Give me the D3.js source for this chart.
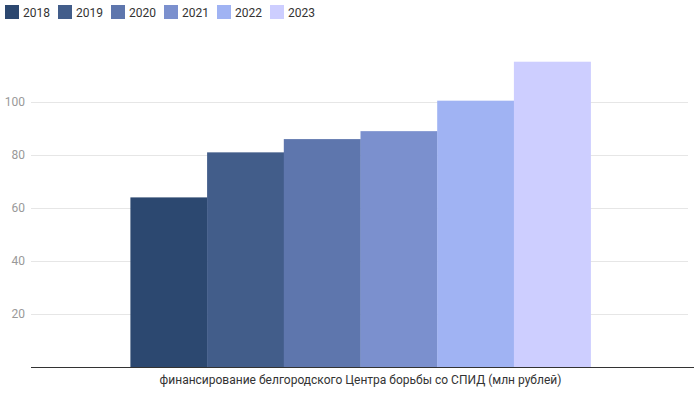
<!DOCTYPE html>
<html><head><meta charset="utf-8">
<script src="https://cdn.jsdelivr.net/npm/d3@7"></script>
<style>body{margin:0;background:#fff;}svg{display:block;font-family:Roboto,"Noto Sans",sans-serif;}</style>
</head><body>
<svg id="c" width="694" height="396"></svg>
<script>
const category = ["финансирование белгородского Центра борьбы со СПИД (млн рублей)"];
const years = ["2018","2019","2020","2021","2022","2023"];
const values = [64, 81, 86, 89, 100.5, 115.2];
const colors = ["#2C4870","#425D8A","#5E76AD","#7B90CE","#A0B3F3","#CDCEFF"];
const yTicks = [20, 40, 60, 80, 100];

const svg = d3.select("#c");
const m = {left: 31, right: 4, top: 49, bottom: 29};
const W = 694, H = 396;
const x0 = d3.scaleBand().domain(category).range([m.left, W - m.right]).paddingInner(0).paddingOuter(0.216);
const x1 = d3.scaleBand().domain(years).range([0, x0.bandwidth()]).padding(0);
const y = d3.scaleLinear().domain([0, 120]).range([H - m.bottom, m.top]);

// grid
svg.append("g").selectAll("line").data(yTicks).join("line")
  .attr("x1", m.left).attr("x2", W - 6)
  .attr("y1", d => Math.round(y(d)) + 0.5).attr("y2", d => Math.round(y(d)) + 0.5)
  .attr("stroke", "#e6e6e6").attr("stroke-width", 1);

// y labels
svg.append("g").selectAll("text").data(yTicks).join("text")
  .attr("x", 25).attr("y", d => y(d) + 4)
  .attr("text-anchor", "end").attr("font-size", 12).attr("fill", "#999")
  .text(d => d);

// bars
const g = svg.append("g").attr("transform", `translate(${x0(category[0])},0)`);
g.selectAll("rect").data(values).join("rect")
  .attr("x", (d, i) => x1(years[i]))
  .attr("width", x1.bandwidth() + 0.3)
  .attr("y", d => y(d))
  .attr("height", d => y(0) - y(d))
  .attr("fill", (d, i) => colors[i]);

// axis line
svg.append("line").attr("x1", m.left).attr("x2", W)
  .attr("y1", Math.round(y(0)) + 0.5).attr("y2", Math.round(y(0)) + 0.5)
  .attr("stroke", "#333").attr("stroke-width", 1);

// x label
svg.append("text").attr("x", x0(category[0]) + x0.bandwidth() / 2).attr("y", 384)
  .attr("text-anchor", "middle").attr("font-size", 12).attr("fill", "#333")
  .text(category[0]);

// legend
const leg = svg.append("g").selectAll("g").data(years).join("g")
  .attr("transform", (d, i) => `translate(${5 + i * 53},5)`);
leg.append("rect").attr("width", 14).attr("height", 14).attr("fill", (d, i) => colors[i]);
leg.append("text").attr("x", 18).attr("y", 12).attr("font-size", 12).attr("fill", "#333").text(d => d);
</script>
</body></html>
